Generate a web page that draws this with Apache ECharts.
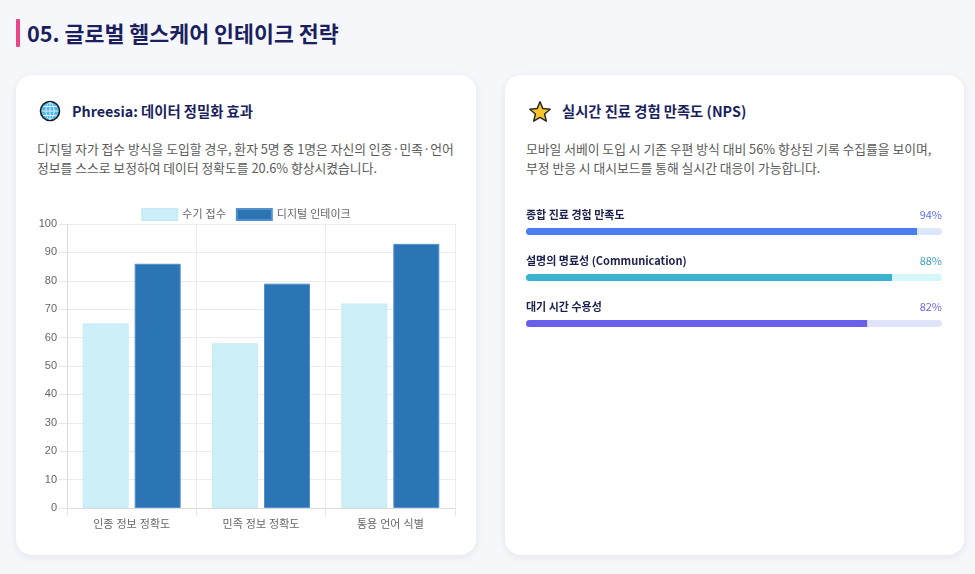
<!DOCTYPE html>
<html><head><meta charset="utf-8">
<script src="https://cdn.jsdelivr.net/npm/echarts@6/dist/echarts.min.js"></script>
<style>
html,body{margin:0;padding:0;width:975px;height:574px;background:#f6f7fb;overflow:hidden;font-family:"Noto Sans CJK KR","Noto Sans",sans-serif;}
.abs{position:absolute;}
.bar{left:16px;top:19px;width:4px;height:28px;background:#e8458b;border-radius:1px;}
.title{left:27px;top:18px;font-size:21.7px;line-height:30px;font-weight:700;color:#1b1f5e;white-space:nowrap;}
.card{background:#fff;border-radius:16px;box-shadow:0 2px 8px rgba(20,30,60,0.08);}
.ctitle{font-size:14.3px;line-height:20px;font-weight:700;color:#1b1f5e;white-space:nowrap;}
.desc{font-size:12.8px;line-height:19px;color:#5a5a5a;white-space:nowrap;}
</style></head>
<body>
<div class="abs bar"></div>
<div class="abs title">05. 글로벌 헬스케어 인테이크 전략</div>

<div class="abs card" style="left:16px;top:75px;width:460px;height:480px;"></div>
<div class="abs card" style="left:505px;top:75px;width:459px;height:480px;"></div>

<svg class="abs" style="left:39px;top:100px;" width="22" height="22" viewBox="0 0 22 22">
  <circle cx="11" cy="11" r="9.5" fill="#4fb8ee" stroke="#1a1a1a" stroke-width="1.6"/>
  <g stroke="#ffffff" stroke-width="0.9" fill="none" opacity="0.85">
    <ellipse cx="11" cy="11" rx="4" ry="8.5"/>
    <line x1="11" y1="2.5" x2="11" y2="19.5"/>
    <line x1="2.5" y1="11" x2="19.5" y2="11"/>
    <line x1="4" y1="6.5" x2="18" y2="6.5"/>
    <line x1="4" y1="15.5" x2="18" y2="15.5"/>
  </g>
</svg>
<div class="abs ctitle" style="left:72px;top:101px;">Phreesia: 데이터 정밀화 효과</div>
<div class="abs desc" style="left:37px;top:138.5px;">디지털 자가 접수 방식을 도입할 경우, 환자 5명 중 1명은 자신의 인종·민족·언어<br>정보를 스스로 보정하여 데이터 정확도를 20.6% 향상시켰습니다.</div>

<svg class="abs" style="left:528px;top:100px;" width="24" height="24" viewBox="0 0 24 24">
  <path d="M12 1.8 L14.9 8.6 L22.2 9.2 L16.6 14 L18.3 21.2 L12 17.4 L5.7 21.2 L7.4 14 L1.8 9.2 L9.1 8.6 Z" fill="#f7c52b" stroke="#2a2a2a" stroke-width="1.5" stroke-linejoin="round"/>
</svg>
<div class="abs ctitle" style="left:562px;top:101px;">실시간 진료 경험 만족도 (NPS)</div>
<div class="abs desc" style="left:526px;top:138.5px;">모바일 서베이 도입 시 기존 우편 방식 대비 56% 향상된 기록 수집률을 보이며,<br>부정 반응 시 대시보드를 통해 실시간 대응이 가능합니다.</div>

<div id="c1" class="abs" style="left:26px;top:190px;width:440px;height:350px;"></div>
<div id="c2" class="abs" style="left:526px;top:190px;width:416px;height:160px;"></div>

<script>
// ---- data ----
const categories = ['인종 정보 정확도', '민족 정보 정확도', '통용 언어 식별'];
const manualValues = [65, 58, 72];
const digitalValues = [86, 79, 93];
const seriesNames = ['수기 접수', '디지털 인테이크'];
const yTicks = [0, 10, 20, 30, 40, 50, 60, 70, 80, 90, 100];

const npsLabels = ['종합 진료 경험 만족도', '설명의 명료성 (Communication)', '대기 시간 수용성'];
const npsValues = [94, 88, 82];
const npsMax = 100;

const chartFont = '"Liberation Sans","Noto Sans CJK KR",sans-serif';

const c1 = echarts.init(document.getElementById('c1'), null, {renderer: 'canvas'});
c1.setOption({
  animation: false,
  legend: {
    top: 13, left: 'center', itemWidth: 35, itemHeight: 11, itemGap: 10,
    icon: 'rect',
    textStyle: {color: '#666', fontSize: 11, fontFamily: chartFont},
    data: seriesNames
  },
  grid: {left: 41, right: 11, top: 34, bottom: 32},
  xAxis: {
    type: 'category', data: categories,
    axisLine: {show: true, lineStyle: {color: '#dcdcdc'}},
    axisTick: {show: true, length: 8, lineStyle: {color: '#e6e6e6'}},
    splitLine: {show: true, lineStyle: {color: '#ececec'}},
    axisLabel: {color: '#666', fontSize: 11, margin: 11, fontFamily: chartFont}
  },
  yAxis: {
    type: 'value', min: yTicks[0], max: yTicks[yTicks.length - 1], interval: yTicks[1] - yTicks[0],
    axisLine: {show: true, lineStyle: {color: '#dcdcdc'}},
    axisTick: {show: true, length: 8, lineStyle: {color: '#e6e6e6'}},
    splitLine: {show: true, lineStyle: {color: '#ececec'}},
    axisLabel: {color: '#666', fontSize: 11, margin: 10, fontFamily: chartFont}
  },
  series: [
    {name: seriesNames[0], type: 'bar', data: manualValues, barWidth: 46, barGap: '13%',
     itemStyle: {color: '#cdeff8', borderColor: '#c4ebf6', borderWidth: 1}},
    {name: seriesNames[1], type: 'bar', data: digitalValues, barWidth: 46,
     itemStyle: {color: '#2b75b4', borderColor: '#5291cc', borderWidth: 1}}
  ]
});

const fillColors = ['#4a7df0', '#3ab3d0', '#6a5fe8'];
const trackColors = ['#dde7fb', '#d5f7fc', '#e0e4fb'];
const pctColors = ['#5a6cf0', '#3aa2b6', '#7262ec'];

const c2 = echarts.init(document.getElementById('c2'), null, {renderer: 'canvas'});
c2.setOption({
  animation: false,
  grid: {left: 0, right: 0, top: 18.5, height: 138},
  xAxis: {type: 'value', min: 0, max: npsMax, show: false},
  yAxis: {type: 'category', data: npsLabels, inverse: true, show: false},
  series: [
    {type: 'bar', barWidth: 7, barGap: '-100%', silent: true,
     data: npsLabels.map((n, i) => ({value: npsMax, itemStyle: {color: trackColors[i]},
       label: {color: pctColors[i]}})),
     itemStyle: {borderRadius: 4},
     label: {show: true, position: [416, -13.5], align: 'right', verticalAlign: 'middle',
       fontSize: 11, fontFamily: '"Noto Sans CJK KR",sans-serif',
       formatter: p => npsValues[p.dataIndex] + '%'}},
    {type: 'bar', barWidth: 7, silent: true, z: 3,
     data: npsValues.map((v, i) => ({value: v, itemStyle: {color: fillColors[i]}})),
     itemStyle: {borderRadius: [4, 0, 0, 4]},
     label: {show: true, position: [0, -13.5], align: 'left', verticalAlign: 'middle',
       fontSize: 11, fontWeight: 'bold', color: '#1b1f4d', fontFamily: '"Noto Sans CJK KR",sans-serif',
       formatter: p => p.name}}
  ]
});
</script>
</body></html>
